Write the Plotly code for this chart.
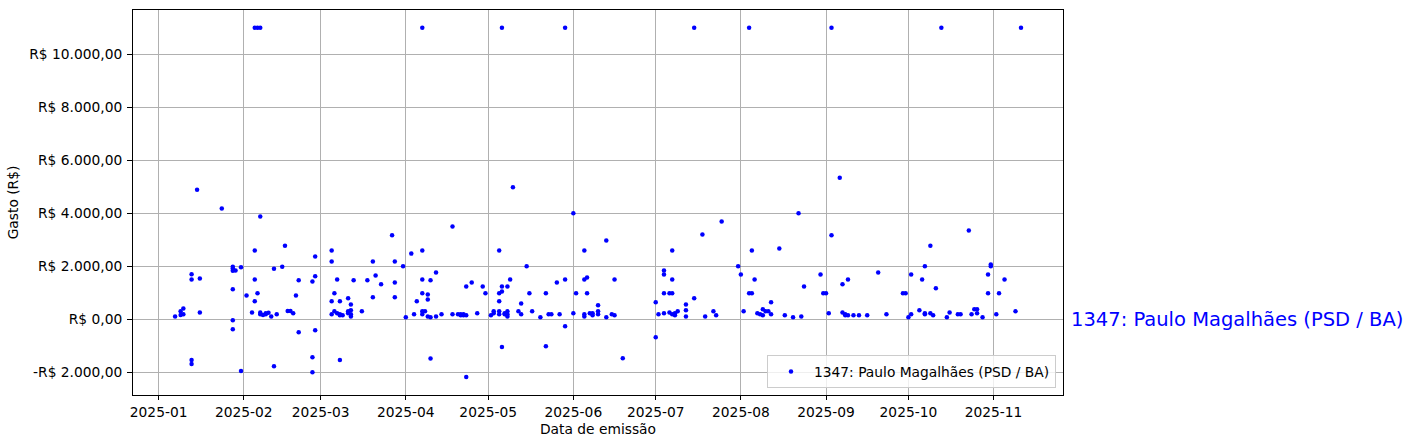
import plotly.graph_objects as go

# Data
datas = [
    # Jan / Feb
    "2025-01-15", "2025-01-24", "2025-02-07", "2025-02-05", "2025-02-16",
    "2025-01-13", "2025-01-13", "2025-01-16", "2025-01-28", "2025-01-28",
    "2025-01-28", "2025-01-29", "2025-01-31", "2025-01-28", "2025-02-02",
    "2025-02-06", "2025-02-05", "2025-02-05", "2025-02-12", "2025-02-15",
    "2025-01-07", "2025-01-09", "2025-01-09", "2025-01-10", "2025-01-10",
    "2025-01-16", "2025-01-28", "2025-01-28", "2025-01-13", "2025-01-13",
    "2025-01-31", "2025-02-12", "2025-02-04", "2025-02-07", "2025-02-07",
    "2025-02-08", "2025-02-09", "2025-02-09", "2025-02-10", "2025-02-11",
    "2025-02-13", "2025-02-17", "2025-02-18", "2025-02-19",
    "2025-02-05", "2025-02-06", "2025-02-07", "2025-04-07",
    # Feb / Mar / Apr
    "2025-02-21", "2025-02-20", "2025-02-26", "2025-02-27", "2025-02-27",
    "2025-02-21", "2025-02-27", "2025-02-26", "2025-02-26", "2025-03-05",
    "2025-03-05", "2025-03-07", "2025-03-06", "2025-03-05", "2025-03-08",
    "2025-03-11", "2025-03-12", "2025-03-05", "2025-03-06", "2025-03-07",
    "2025-03-08", "2025-03-08", "2025-03-09", "2025-03-11", "2025-03-11",
    "2025-03-12", "2025-03-12", "2025-03-12", "2025-03-16", "2025-03-13",
    "2025-03-08", "2025-03-18", "2025-03-20", "2025-03-21", "2025-03-20",
    "2025-03-23", "2025-03-27", "2025-03-28", "2025-03-28", "2025-03-28",
    "2025-03-31", "2025-04-01", "2025-04-03", "2025-04-07", "2025-04-04",
    "2025-04-05", "2025-04-07", "2025-04-07", "2025-04-09", "2025-04-09",
    "2025-04-10", "2025-04-12", "2025-04-07", "2025-04-07", "2025-04-08",
    "2025-04-09", "2025-04-10", "2025-04-12", "2025-04-14", "2025-04-10",
    # Apr / May / Jun
    "2025-04-18", "2025-04-18", "2025-04-20", "2025-04-21", "2025-04-21",
    "2025-04-22", "2025-04-22", "2025-04-23", "2025-04-23", "2025-04-25",
    "2025-04-27", "2025-04-29", "2025-04-30", "2025-04-23", "2025-05-05",
    "2025-05-10", "2025-05-05", "2025-05-05", "2025-05-06", "2025-05-06",
    "2025-05-08", "2025-05-09", "2025-05-02", "2025-05-03", "2025-05-03",
    "2025-05-05", "2025-05-05", "2025-05-07", "2025-05-07", "2025-05-08",
    "2025-05-08", "2025-05-08", "2025-05-06", "2025-05-15", "2025-05-13",
    "2025-05-12", "2025-05-13", "2025-05-16", "2025-05-17", "2025-05-20",
    "2025-05-22", "2025-05-22", "2025-05-23", "2025-05-24", "2025-05-26",
    "2025-05-27", "2025-05-29", "2025-05-29", "2025-06-01", "2025-06-01",
    "2025-06-02", "2025-06-05", "2025-06-05", "2025-06-06", "2025-06-06",
    "2025-06-05", "2025-06-05", "2025-06-07", "2025-06-08", "2025-06-08",
    "2025-06-10", "2025-06-10", "2025-06-10",
    "2025-05-06", "2025-05-29",
    # Jun / Jul / Aug
    "2025-06-13", "2025-06-13", "2025-06-15", "2025-06-16", "2025-06-16",
    "2025-06-19", "2025-07-01", "2025-07-01", "2025-07-02", "2025-07-04",
    "2025-07-04", "2025-07-04", "2025-07-04", "2025-07-07", "2025-07-07",
    "2025-07-06", "2025-07-07", "2025-07-06", "2025-07-07", "2025-07-08",
    "2025-07-08", "2025-07-09", "2025-07-12", "2025-07-12", "2025-07-12",
    "2025-07-15", "2025-07-18", "2025-07-19", "2025-07-22", "2025-07-23",
    "2025-07-25", "2025-07-31", "2025-08-01", "2025-08-02", "2025-08-05",
    "2025-08-06", "2025-08-04", "2025-08-05", "2025-08-07", "2025-08-08",
    "2025-07-15", "2025-08-04",
    # Aug / Sep / Oct
    "2025-08-09", "2025-08-09", "2025-08-10", "2025-08-11", "2025-08-12",
    "2025-08-12", "2025-08-15", "2025-08-17", "2025-08-20", "2025-08-23",
    "2025-08-22", "2025-08-24", "2025-08-30", "2025-08-31", "2025-09-01",
    "2025-09-02", "2025-09-03", "2025-09-06", "2025-09-07", "2025-09-09",
    "2025-09-07", "2025-09-08", "2025-09-08", "2025-09-09", "2025-09-11",
    "2025-09-13", "2025-09-16", "2025-09-20", "2025-09-23", "2025-09-29",
    "2025-09-30", "2025-10-01", "2025-10-02", "2025-10-02",
    "2025-09-03",
    # Oct / Nov
    "2025-10-05", "2025-10-06", "2025-10-07", "2025-10-07", "2025-10-07",
    "2025-10-09", "2025-10-09", "2025-10-10", "2025-10-11", "2025-10-15",
    "2025-10-16", "2025-10-19", "2025-10-20", "2025-10-23", "2025-10-24",
    "2025-10-25", "2025-10-26", "2025-10-26", "2025-10-28", "2025-10-30",
    "2025-10-30", "2025-10-31", "2025-10-31", "2025-11-02", "2025-11-03",
    "2025-11-05", "2025-11-09",
    "2025-10-13", "2025-11-11",
]

gastos = [
    # Jan / Feb
    4890, 4180, 3880, 2600, 2780,
    1700, 1500, 1540, 1980, 1920,
    1830, 1840, 1960, 1130, 900,
    980, 1500, 680, 1910, 1980,
    110, 300, 160, 410, 190,
    260, -40, -380, -1540, -1690,
    -1950, -1770, 260, 260, 190,
    160, 190, 230, 250, 110,
    190, 310, 310, 230,
    11000, 11000, 11000, 11000,
    # Feb / Mar / Apr
    1470, 900, 1430, 2370, 1620,
    -490, -410, -1430, -2000, 2600,
    2180, 1500, 980, 680, 680,
    790, 560, 190, 300, 230,
    190, 150, 150, 230, 300,
    340, 190, 110, 300, 1470,
    -1540, 1470, 2180, 1650, 830,
    1320, 3170, 2180, 1390, 830,
    2000, 80, 2480, 2600, 190,
    680, 1500, 980, 940, 750,
    1470, 1770, 300, 190, 300,
    110, 80, 110, 190, -1480,
    # Apr / May / Jun
    190, 3500, 190, 150, 190,
    150, 190, 150, 1240, 1390,
    230, 1240, 980, -2180, 2600,
    4980, 680, 980, 1240, 1050,
    1240, 1500, 150, 300, 230,
    300, 190, 230, 190, 300,
    110, 190, -1050, 2000, 600,
    300, 190, 980, 300, 80,
    980, -1020, 190, 190, 1390,
    190, 1500, -260, 4000, 230,
    980, 2600, 1500, 1580, 980,
    110, 190, 230, 150, 230,
    530, 300, 190,
    11000, 11000,
    # Jun / Jul / Aug
    2970, 80, 190, 150, 1500,
    -1470, 640, -680, 190, 1840,
    1690, 980, 230, 2600, 1500,
    980, 980, 260, 190, 230,
    150, 300, 560, 340, 110,
    790, 3200, 110, 300, 150,
    3690, 2000, 1690, 300, 2600,
    1500, 980, 980, 230, 190,
    11000, 11000,
    # Aug / Sep / Oct
    150, 380, 300, 300, 640,
    190, 2670, 150, 80, 110,
    4000, 1240, 1690, 980, 980,
    230, 3170, 5340, 1320, 1500,
    260, 190, 150, 150, 150,
    150, 150, 1770, 190, 980,
    980, 80, 190, 1690,
    11000,
    # Oct / Nov
    340, 1500, 230, 190, 2000,
    2780, 230, 150, 1170, 80,
    260, 190, 190, 3350, 190,
    380, 380, 230, 80, 1690,
    980, 2070, 2000, 190, 980,
    1500, 300,
    11000, 11000,
]

nome = "1347: Paulo Magalhães (PSD / BA)"
y_ticks = [-2000, 0, 2000, 4000, 6000, 8000, 10000]
y_tick_labels = ["-R$ 2.000,00", "R$ 0,00", "R$ 2.000,00", "R$ 4.000,00",
                 "R$ 6.000,00", "R$ 8.000,00", "R$ 10.000,00"]
x_ticks = ["2025-%02d-01" % m for m in range(1, 12)]
x_tick_labels = ["2025-%02d" % m for m in range(1, 12)]

font_family = "DejaVu Sans"
fs = 13.8

fig = go.Figure()
fig.add_trace(go.Scatter(
    x=datas, y=gastos, mode="markers", name=nome,
    marker=dict(color="#0000ff", size=4.5, line=dict(width=0)),
))

axis_common = dict(
    showline=True, linecolor="black", linewidth=1, mirror=True,
    showgrid=True, gridcolor="#b0b0b0", gridwidth=1,
    ticks="outside", ticklen=5, tickwidth=1, tickcolor="black",
    zeroline=False, layer="above traces",
    tickfont=dict(family=font_family, size=fs, color="black"),
    title_font=dict(family=font_family, size=fs, color="black"),
)

fig.update_xaxes(
    range=["2024-12-22 16:00", "2025-11-26 07:00"],
    tickvals=x_ticks, ticktext=x_tick_labels,
    title_text="Data de emissão", title_standoff=5,
    **axis_common,
)
fig.update_yaxes(
    range=[-2857, 11673],
    tickvals=y_ticks, ticktext=y_tick_labels, ticklabelstandoff=2,
    title_text="Gasto (R$)", title_standoff=7,
    **axis_common,
)
fig.update_xaxes(ticklen=4)

fig.add_annotation(
    x=1, xref="paper", y=0, yref="y", xanchor="left", yanchor="middle",
    xshift=6, text=nome, showarrow=False,
    font=dict(family=font_family, size=19.5, color="#0000ff"),
)

fig.update_layout(
    width=1412, height=448,
    margin=dict(l=133, r=349, t=10, b=53),
    paper_bgcolor="white", plot_bgcolor="white",
    font=dict(family=font_family, size=fs, color="black"),
    showlegend=True,
    legend=dict(
        x=1 - 7 / 930, y=7 / 385, xanchor="right", yanchor="bottom",
        bgcolor="rgba(255,255,255,0.8)", bordercolor="#cccccc", borderwidth=1,
        font=dict(family=font_family, size=fs, color="black"),
        itemwidth=36,
    ),
)

fig.write_html("out.html", config={"displayModeBar": False},
               post_script="document.body.style.margin='0';")
